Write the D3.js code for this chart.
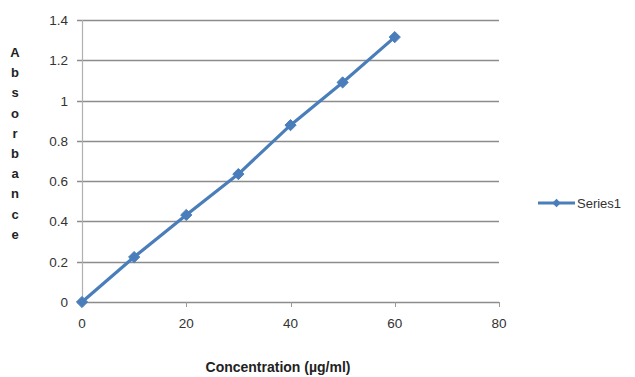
<!DOCTYPE html>
<html>
<head>
<meta charset="utf-8">
<script src="https://cdn.jsdelivr.net/npm/d3@7"></script>
<style>
  body { margin: 0; background: #fff; }
  svg { display: block; font-family: "Liberation Sans", Arial, sans-serif; }
</style>
</head>
<body>
<div id="chart"></div>
<script>
// concentration (ug/ml) vs absorbance
var concentration = [0, 10, 20, 30, 40, 50, 60];
var absorbance = [0, 0.223, 0.432, 0.635, 0.878, 1.09, 1.315];
var xTicks = [0, 20, 40, 60, 80];
var yTicks = [0, 0.2, 0.4, 0.6, 0.8, 1, 1.2, 1.4];
var seriesName = "Series1";

var width = 635, height = 377;
var plotLeft = 82, plotRight = 499, plotTop = 20, plotBottom = 302;
var blue = "#4a7ebb";

var svg = d3.select("#chart").append("svg")
  .attr("width", width)
  .attr("height", height);

var x = d3.scaleLinear().domain([0, 80]).range([plotLeft, plotRight]);
var y = d3.scaleLinear().domain([0, 1.4]).range([plotBottom, plotTop]);

// gridlines
svg.append("g")
  .selectAll("line")
  .data(yTicks).enter()
  .append("line")
  .attr("x1", plotLeft - 5).attr("x2", plotRight)
  .attr("y1", function(d) { return Math.round(y(d)) + 0.5; })
  .attr("y2", function(d) { return Math.round(y(d)) + 0.5; })
  .attr("stroke", "#8c8c8c")
  .attr("stroke-width", 1.3);

// y axis line
svg.append("line")
  .attr("x1", plotLeft + 0.5).attr("x2", plotLeft + 0.5)
  .attr("y1", plotTop).attr("y2", plotBottom + 0.5)
  .attr("stroke", "#b0b0b0")
  .attr("stroke-width", 1.2);

// x ticks
svg.append("g")
  .selectAll("line")
  .data(xTicks).enter()
  .append("line")
  .attr("x1", function(d) { return Math.round(x(d)) + 0.5; })
  .attr("x2", function(d) { return Math.round(x(d)) + 0.5; })
  .attr("y1", plotBottom).attr("y2", plotBottom + 5)
  .attr("stroke", "#9a9a9a");

// tick labels
svg.append("g")
  .selectAll("text")
  .data(yTicks).enter()
  .append("text")
  .attr("x", 68)
  .attr("y", function(d) { return y(d) + 5; })
  .attr("text-anchor", "end")
  .attr("font-size", 13.5)
  .attr("fill", "#333")
  .text(function(d) { return +d.toFixed(1); });

svg.append("g")
  .selectAll("text")
  .data(xTicks).enter()
  .append("text")
  .attr("x", function(d) { return x(d); })
  .attr("y", 328)
  .attr("text-anchor", "middle")
  .attr("font-size", 13.5)
  .attr("fill", "#333")
  .text(function(d) { return d; });

// axis titles
svg.append("text")
  .attr("x", 278)
  .attr("y", 372)
  .attr("text-anchor", "middle")
  .attr("font-size", 14)
  .attr("font-weight", "bold")
  .attr("fill", "#222")
  .text("Concentration (µg/ml)");

var yTitle = "Absorbance".split("");
svg.append("g")
  .selectAll("text")
  .data(yTitle).enter()
  .append("text")
  .attr("x", 15)
  .attr("y", function(d, i) { return 57 + i * 20.2; })
  .attr("text-anchor", "middle")
  .attr("font-size", 13)
  .attr("font-weight", "bold")
  .attr("fill", "#222")
  .text(function(d) { return d; });

// series line
var line = d3.line()
  .x(function(d, i) { return x(concentration[i]); })
  .y(function(d) { return y(d); });

svg.append("path")
  .datum(absorbance)
  .attr("d", line)
  .attr("fill", "none")
  .attr("stroke", blue)
  .attr("stroke-width", 3.2)
  .attr("stroke-linejoin", "round");

var diamond = d3.symbol().type(d3.symbolDiamond2).size(80);
svg.append("g")
  .selectAll("path")
  .data(absorbance).enter()
  .append("path")
  .attr("d", diamond)
  .attr("transform", function(d, i) { return "translate(" + x(concentration[i]) + "," + y(d) + ")"; })
  .attr("fill", blue)
  .attr("stroke", blue)
  .attr("stroke-width", 1);

// legend
var lg = svg.append("g").attr("transform", "translate(538,203)");
lg.append("line")
  .attr("x1", 0).attr("x2", 37)
  .attr("stroke", blue)
  .attr("stroke-width", 3);
lg.append("path")
  .attr("d", d3.symbol().type(d3.symbolDiamond2).size(45))
  .attr("transform", "translate(18.5,0)")
  .attr("fill", blue);
lg.append("text")
  .attr("x", 39)
  .attr("y", 5)
  .attr("font-size", 13)
  .attr("fill", "#333")
  .text(seriesName);
</script>
</body>
</html>
